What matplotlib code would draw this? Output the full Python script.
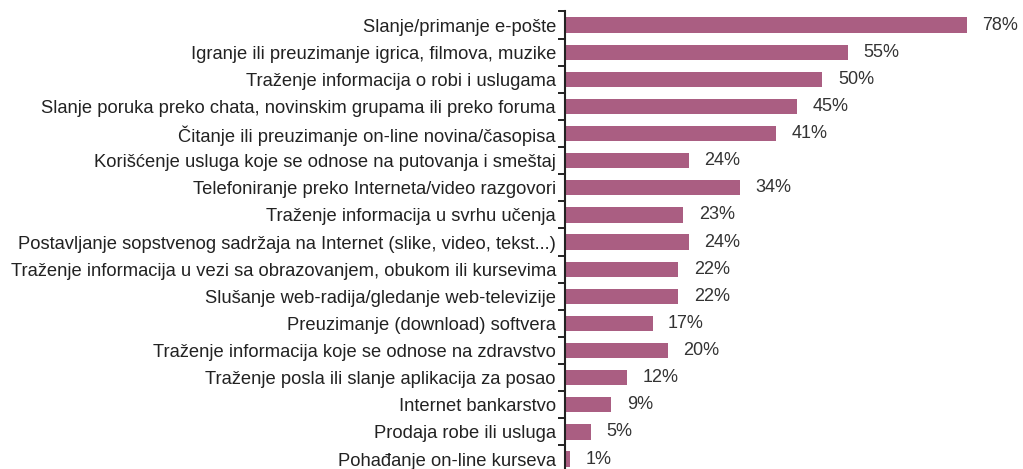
import matplotlib.pyplot as plt
import numpy as np

# internet activities, share of users (%)
activities = [
    "Slanje/primanje e-pošte",
    "Igranje ili preuzimanje igrica, filmova, muzike",
    "Traženje informacija o robi i uslugama",
    "Slanje poruka preko chata, novinskim grupama ili preko foruma",
    "Čitanje ili preuzimanje on-line novina/časopisa",
    "Korišćenje usluga koje se odnose na putovanja i smeštaj",
    "Telefoniranje preko Interneta/video razgovori",
    "Traženje informacija u svrhu učenja",
    "Postavljanje sopstvenog sadržaja na Internet (slike, video, tekst...)",
    "Traženje informacija u vezi sa obrazovanjem, obukom ili kursevima",
    "Slušanje web-radija/gledanje web-televizije",
    "Preuzimanje (download) softvera",
    "Traženje informacija koje se odnose na zdravstvo",
    "Traženje posla ili slanje aplikacija za posao",
    "Internet bankarstvo",
    "Prodaja robe ili usluga",
    "Pohađanje on-line kurseva",
]
shares = [78, 55, 50, 45, 41, 24, 34, 23, 24, 22, 22, 17, 20, 12, 9, 5, 1]

plt.rcParams["font.family"] = ["Liberation Sans", "DejaVu Sans"]

fig = plt.figure(figsize=(10.23, 4.69), dpi=100)
ax = fig.add_axes([0.5523, -0.0077, 0.443, 0.9832])

y = np.arange(len(activities))
ax.barh(y, shares, height=0.56, color="#AA5E82")

for yi, v in zip(y, shares):
    ax.text(v + 3.0, yi, f"{v}%", va="center", ha="left", fontsize=13, color="#333333")

ax.set_xlim(0, 88)
ax.set_ylim(len(activities) - 0.5, -0.5)

ax.set_yticks(y)
ax.set_yticklabels(activities, fontsize=13.2, color="#222222")
ax.tick_params(axis="y", which="major", length=0, pad=6.5)
ax.set_yticks(np.arange(-0.5, len(activities), 1), minor=True)
ax.tick_params(axis="y", which="minor", length=5, width=1.4, color="#222222")
ax.set_xticks([])

for s in ["top", "right", "bottom"]:
    ax.spines[s].set_visible(False)
ax.spines["left"].set_linewidth(1.5)
ax.spines["left"].set_color("#222222")

fig.savefig("out.png", dpi=100)
